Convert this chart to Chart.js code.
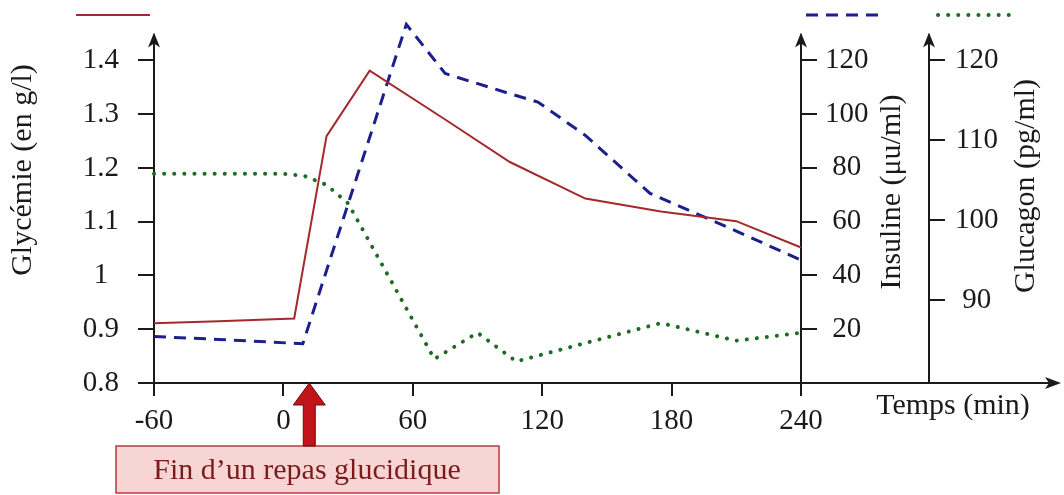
<!DOCTYPE html>
<html>
<head>
<meta charset="utf-8">
<script src="https://cdn.jsdelivr.net/npm/chart.js@4.4.0/dist/chart.umd.min.js"></script>
<style>
  html, body { margin: 0; padding: 0; background: #fff; }
  #wrap { width: 1064px; height: 495px; }
</style>
</head>
<body>
<div id="wrap"><canvas id="hormoneChart"></canvas></div>
<script>
// time in minutes
const glycTimes = [-60, -30, 5, 20, 40, 75, 105, 140, 175, 210, 240];
const glycValues = [0.911, 0.915, 0.920, 1.259, 1.381, 1.29, 1.211, 1.143, 1.119, 1.101, 1.052];

const insulinTimes = [-60, -30, 9, 57, 75, 105, 118, 140, 170, 210, 240];
const insulinValues = [17.3, 16.2, 14.6, 133.4, 115.1, 107.6, 104.5, 92.1, 70.5, 56.5, 45.7];

const glucagonTimes = [-60, -30, 0, 10, 20, 30, 70, 90, 108, 140, 175, 210, 240];
const glucagonValues = [105.8, 105.8, 105.8, 105.5, 104.4, 102.1, 82.6, 85.9, 82.3, 84.6, 87.1, 84.9, 85.9];

// tick labels
const timeTicks = [-60, 0, 60, 120, 180, 240];
const glycTicks = [0.8, 0.9, 1, 1.1, 1.2, 1.3, 1.4];
const insulinTicks = [20, 40, 60, 80, 100, 120];
const glucagonTicks = [90, 100, 110, 120];

const mealEndTime = 12;

const pairs = (xs, ys) => xs.map((x, i) => ({ x: x, y: ys[i] }));

const RED = '#a3292c';
const BLUE = '#1c1f8c';
const GREEN = '#1f6b22';
const AXIS = '#1a1a1a';
const SERIF = "'Liberation Serif', 'Times New Roman', serif";

Chart.defaults.font.family = SERIF;
Chart.defaults.color = '#1a1a1a';

// axis line + ticks, no grid inside the plot
function axisGrid(len) {
  return { drawOnChartArea: false, color: AXIS, lineWidth: 2, tickLength: len, tickColor: AXIS };
}

// arrows, legend strokes, axis titles, the meal label
const decor = {
  id: 'decor',
  afterDraw(chart) {
    const { ctx, chartArea: a, scales } = chart;
    ctx.save();
    ctx.fillStyle = AXIS;
    ctx.strokeStyle = AXIS;
    ctx.lineWidth = 2;

    // vertical axis arrows
    [scales.y.right, scales.yIns.left, scales.yGluc.left].forEach(x => {
      ctx.beginPath();
      ctx.moveTo(x, a.top);
      ctx.lineTo(x, a.top - 2);
      ctx.stroke();
      ctx.beginPath();
      ctx.moveTo(x, a.top - 4);
      ctx.lineTo(x - 6, a.top + 11);
      ctx.lineTo(x, a.top + 7);
      ctx.lineTo(x + 6, a.top + 11);
      ctx.closePath();
      ctx.fill();
    });

    // time axis goes on past the right axes
    ctx.beginPath();
    ctx.moveTo(a.right, a.bottom);
    ctx.lineTo(1052, a.bottom);
    ctx.stroke();
    ctx.beginPath();
    ctx.moveTo(1061, a.bottom);
    ctx.lineTo(1045, a.bottom - 6);
    ctx.lineTo(1049, a.bottom);
    ctx.lineTo(1045, a.bottom + 6);
    ctx.closePath();
    ctx.fill();

    // legend strokes (no text)
    const sets = chart.data.datasets;
    const legendPos = [[76, 150], [806, 880], [938, 1013]];
    sets.forEach((ds, i) => {
      ctx.save();
      ctx.strokeStyle = ds.borderColor;
      ctx.lineWidth = ds.borderWidth;
      ctx.setLineDash(ds.borderDash || []);
      ctx.lineCap = ds.borderCapStyle || 'butt';
      ctx.beginPath();
      ctx.moveTo(legendPos[i][0], 15);
      ctx.lineTo(legendPos[i][1], 15);
      ctx.stroke();
      ctx.restore();
    });

    // axis titles
    ctx.font = '30px ' + SERIF;
    ctx.fillStyle = '#1a1a1a';
    ctx.textAlign = 'center';
    ctx.textBaseline = 'middle';
    const vText = (t, x, y) => {
      ctx.save();
      ctx.translate(x, y);
      ctx.rotate(-Math.PI / 2);
      ctx.fillText(t, 0, 0);
      ctx.restore();
    };
    vText('Glycémie (en g/l)', 23, 170);
    vText('Insuline (μu/ml)', 892, 192);
    vText('Glucagon (pg/ml)', 1026, 186);
    ctx.fillText('Temps (min)', 953, 406);

    // "end of meal" arrow and box
    const ax = scales.x.getPixelForValue(mealEndTime);
    ctx.fillStyle = '#f7d5d5';
    ctx.strokeStyle = '#b23c3c';
    ctx.lineWidth = 1.5;
    ctx.fillRect(116, 446, 383, 47);
    ctx.strokeRect(116, 446, 383, 47);

    ctx.fillStyle = '#c0141a';
    ctx.strokeStyle = '#6d0b0b';
    ctx.lineWidth = 1;
    ctx.beginPath();
    ctx.moveTo(ax, a.bottom);
    ctx.lineTo(ax + 16, a.bottom + 22);
    ctx.lineTo(ax + 6, a.bottom + 22);
    ctx.lineTo(ax + 6, 446);
    ctx.lineTo(ax - 6, 446);
    ctx.lineTo(ax - 6, a.bottom + 22);
    ctx.lineTo(ax - 16, a.bottom + 22);
    ctx.closePath();
    ctx.fill();
    ctx.stroke();

    ctx.fillStyle = '#7b1c1c';
    ctx.textBaseline = 'alphabetic';
    ctx.fillText('Fin d\u2019un repas glucidique', 307, 479);
    ctx.restore();
  }
};

const ctx = document.getElementById('hormoneChart').getContext('2d');

const hormoneChart = new Chart(ctx, {
  type: 'line',
  data: {
    datasets: [
      {
        label: 'Glycémie',
        data: pairs(glycTimes, glycValues),
        yAxisID: 'y',
        borderColor: RED,
        borderWidth: 2,
        pointRadius: 0,
        tension: 0,
        clip: false
      },
      {
        label: 'Insuline',
        data: pairs(insulinTimes, insulinValues),
        yAxisID: 'yIns',
        borderColor: BLUE,
        borderWidth: 3,
        borderDash: [12, 8],
        pointRadius: 0,
        tension: 0,
        clip: false
      },
      {
        label: 'Glucagon',
        data: pairs(glucagonTimes, glucagonValues),
        yAxisID: 'yGluc',
        borderColor: GREEN,
        borderWidth: 4,
        borderDash: [0.1, 10],
        borderCapStyle: 'round',
        pointRadius: 0,
        tension: 0,
        clip: false
      }
    ]
  },
  options: {
    responsive: true,
    maintainAspectRatio: false,
    animation: false,
    layout: { padding: { top: 36, left: 0, right: 0, bottom: 0 } },
    plugins: {
      legend: { display: false },
      tooltip: { enabled: false }
    },
    scales: {
      x: {
        type: 'linear',
        min: -60,
        max: 240,
        afterBuildTicks: s => { s.ticks = timeTicks.map(v => ({ value: v })); },
        afterFit: s => { s.height = 112; },
        grid: axisGrid(13),
        border: { color: AXIS, width: 2 },
        ticks: { font: { size: 29 }, padding: 8, maxRotation: 0, callback: v => String(v) }
      },
      y: {
        position: 'left',
        min: 0.8,
        max: 1.4446,
        afterBuildTicks: s => { s.ticks = glycTicks.map(v => ({ value: v })); },
        afterFit: s => { s.width = 154; },
        grid: axisGrid(16),
        border: { color: AXIS, width: 2 },
        ticks: { font: { size: 29 }, padding: 19, crossAlign: 'center', callback: v => String(v) }
      },
      yIns: {
        position: 'right',
        weight: 1,
        min: 0,
        max: 128.9,
        afterBuildTicks: s => { s.ticks = insulinTicks.map(v => ({ value: v })); },
        afterFit: s => { s.width = 128; },
        grid: axisGrid(16),
        border: { color: AXIS, width: 2 },
        ticks: { font: { size: 29 }, padding: 8, crossAlign: 'center', callback: v => String(v) }
      },
      yGluc: {
        position: 'right',
        weight: 2,
        min: 79.6,
        max: 123.0,
        afterBuildTicks: s => { s.ticks = glucagonTicks.map(v => ({ value: v })); },
        afterFit: s => { s.width = 135; },
        grid: axisGrid(16),
        border: { color: AXIS, width: 2 },
        ticks: { font: { size: 29 }, padding: 10, crossAlign: 'center', callback: v => String(v) }
      }
    }
  },
  plugins: [decor]
});
</script>
</body>
</html>
